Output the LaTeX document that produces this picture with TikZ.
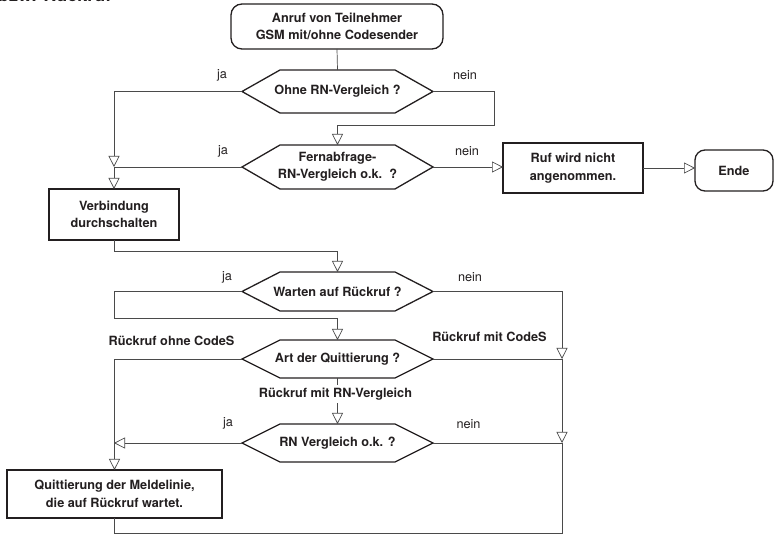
\documentclass[tikz,border=0pt]{standalone}
\usepackage{fontspec}
\setmainfont{TeX Gyre Heros}
\usetikzlibrary{arrows.meta}
\definecolor{ink}{HTML}{231F20}
\definecolor{wire}{HTML}{4A4A4A}
\newcommand\flowfont{\fontsize{12.7}{17.5}\selectfont}
\begin{document}
\begin{tikzpicture}[x=1pt, y=-1pt,
  box/.style={draw=ink, line width=1.3pt, fill=white, text=ink,
    font=\flowfont\bfseries, align=center, inner sep=0pt, outer sep=0pt},
  endbox/.style={box, rounded corners=11pt},
  hexnode/.style={inner sep=0pt, outer sep=0pt, minimum width=191pt,
    text=ink, font=\flowfont\bfseries, align=center},
  hexline/.style={draw=ink, line width=1.3pt, line join=miter},
  conn/.style={draw=wire, line width=0.7pt},
  flow/.style={conn, -{Triangle[open, length=11pt, width=11pt]}},
  lab/.style={text=ink, font=\flowfont, inner sep=0pt},
  blab/.style={text=ink, font=\flowfont\bfseries, inner sep=0pt},
]
\useasboundingbox (0,0) rectangle (777,534);

% heading, running off the top edge
\node[anchor=base west, text=ink, font=\fontsize{18}{20}\selectfont\bfseries, inner sep=0pt]
  (title) at (-2,2) {bzw. Rückruf};

% boxes
\node[endbox, minimum width=212pt, minimum height=45pt] (start) at (337,26.5)
  {Anruf von Teilnehmer\\GSM mit/ohne Codesender};
\node[box, minimum width=140pt, minimum height=50pt] (ruf) at (573,168)
  {Ruf wird nicht\\angenommen.};
\node[endbox, rounded corners=10pt, minimum width=78pt, minimum height=41pt] (ende) at (734,170.5)
  {Ende};
\node[box, minimum width=130pt, minimum height=51pt] (verb) at (114,214.5)
  {Verbindung\\durchschalten};
\node[box, minimum width=215pt, minimum height=48pt] (quit) at (114.5,494)
  {Quittierung der Meldelinie,\\die auf Rückruf wartet.};

% decisions
\node[hexnode, minimum height=43pt] (h1) at (337.5,91.5) {Ohne RN-Vergleich ?};
\node[hexnode, minimum height=44pt] (h2) at (337.5,167) {Fernabfrage-\\RN-Vergleich o.k.\ \ ?};
\node[hexnode, minimum height=39pt] (h3) at (337.5,291.5) {Warten auf Rückruf ?};
\node[hexnode, minimum height=38pt] (h4) at (337.5,359) {Art der Quittierung ?};
\node[hexnode, minimum height=38pt] (h5) at (337.5,443) {RN Vergleich o.k. ?};
\foreach \h in {h1,h2,h3,h4,h5}
  \draw[hexline] (\h.west) -- ([xshift=38pt]\h.north west) -- ([xshift=-38pt]\h.north east)
    -- (\h.east) -- ([xshift=-38pt]\h.south east) -- ([xshift=38pt]\h.south west) -- cycle;

% junction points
\coordinate (j1) at (114,167);
\coordinate (n1) at (494,125);
\coordinate (v1) at (114,251);
\coordinate (w1) at (114,318);
\coordinate (r1) at (562,359);
\coordinate (r2) at (562,443);
\coordinate (l1) at (114,443);
\coordinate (b1) at (337,533);

% connectors
\draw[conn] (start.south) -- (h1.north);
\draw[flow] (h1.west) -| (j1);
\draw[flow] (h1.east) -| (n1) -| (h2.north);
\draw[conn] (h2.west) -- (j1);
\draw[flow] (j1) -- (verb.north);
\draw[flow] (h2.east) -- (h2.east -| ruf.west);
\draw[flow] (ruf.east) -- (ruf.east -| ende.west);
\draw[flow] (verb.south) -- (v1) -| (h3.north);
\draw[flow] (h3.west) -| (w1) -| (h4.north);
\draw[flow] (h3.east) -| (r1);
\draw[conn] (h4.east) -- (r1);
\draw[flow] (r1) -- (r2);
\draw[conn] (h5.east) -- (r2);
\draw[conn] (r2) |- (b1);
\draw[conn] (quit.south) |- (b1);
\draw[flow] (h4.west) -| (quit.north);
\draw[flow] (h5.west) -- (l1);
\draw[flow] (h4.south) -- (h5.north);

% branch labels
\node[lab] (ja1) at (222,75) {ja};
\node[lab] (nein1) at (465,75) {nein};
\node[lab] (ja2) at (223,151) {ja};
\node[lab] (nein2) at (467,151) {nein};
\node[lab] (ja3) at (227,277) {ja};
\node[lab] (nein3) at (470,277) {nein};
\node[blab] (ohne) at (171.5,341) {Rückruf ohne CodeS};
\node[blab] (mit) at (489.5,337) {Rückruf mit CodeS};
\node[blab, fill=white, inner ysep=3pt] (rnv) at (335.5,394) {Rückruf mit RN-Vergleich};
\node[lab] (ja5) at (228,423) {ja};
\node[lab] (nein5) at (468.5,424) {nein};
\end{tikzpicture}
\end{document}
